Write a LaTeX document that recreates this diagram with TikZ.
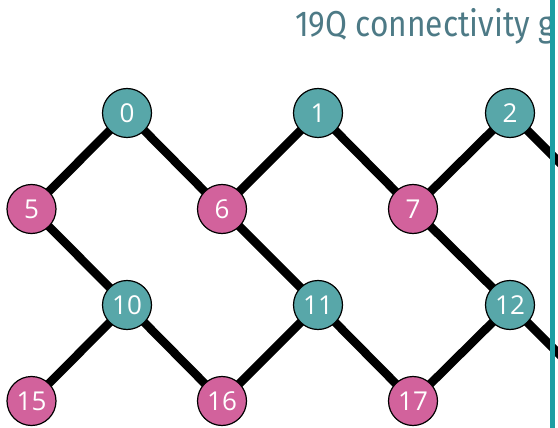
\documentclass[tikz,border=0pt]{standalone}
\usepackage{fontspec}
\usetikzlibrary{backgrounds}
\newfontfamily\titlefont{Fira Sans}[FakeStretch=0.88]
\newfontfamily\numfont{Open Sans}
\definecolor{tealnode}{HTML}{58A7A9}
\definecolor{pinknode}{HTML}{D2629C}
\definecolor{titlecol}{HTML}{4D7A86}
\definecolor{barcol}{HTML}{1E9EA3}
\tikzset{
  qubit/.style={circle, draw=black, line width=1.2pt, minimum size=49pt, inner sep=0pt,
    text=white, font=\numfont\fontsize{26}{26}\selectfont},
  tq/.style={qubit, fill=tealnode},
  pq/.style={qubit, fill=pinknode},
  link/.style={line width=8.5pt, black},
}
\begin{document}
\begin{tikzpicture}[x=1pt,y=-1pt]
\useasboundingbox (0,0) rectangle (558,428);
\begin{scope}
\clip (0,0) rectangle (550,428);
\node[anchor=base west, inner sep=0pt, text=titlecol, font=\titlefont\fontsize{36}{36}\selectfont] (title) at (295,37) {19Q connectivity g};
% nodes
\node[tq] (n0) at (127,113) {0};
\node[tq] (n1) at (318,113) {1};
\node[tq] (n2) at (510,113) {2};
\node[pq] (n5) at (31.5,209) {5};
\node[pq] (n6) at (222,209) {6};
\node[pq] (n7) at (413,209) {7};
\node[tq] (n10) at (127,305) {10};
\node[tq] (n11) at (318,305) {11};
\node[tq] (n12) at (510,305) {12};
\node[pq] (n15) at (31.5,401) {15};
\node[pq] (n16) at (222,401) {16};
\node[pq] (n17) at (413,401) {17};
\coordinate (r1) at (606,209);
\coordinate (r2) at (606,401);
\begin{scope}[on background layer]
\draw[link] (n0.center) -- (n5.center);
\draw[link] (n0.center) -- (n6.center);
\draw[link] (n1.center) -- (n6.center);
\draw[link] (n1.center) -- (n7.center);
\draw[link] (n2.center) -- (n7.center);
\draw[link] (n2.center) -- (r1);
\draw[link] (n5.center) -- (n10.center);
\draw[link] (n6.center) -- (n11.center);
\draw[link] (n7.center) -- (n12.center);
\draw[link] (n10.center) -- (n15.center);
\draw[link] (n10.center) -- (n16.center);
\draw[link] (n11.center) -- (n16.center);
\draw[link] (n11.center) -- (n17.center);
\draw[link] (n12.center) -- (n17.center);
\draw[link] (n12.center) -- (r2);
\end{scope}
\end{scope}
\fill[barcol] (550,0) rectangle (555,428);
\end{tikzpicture}
\end{document}
